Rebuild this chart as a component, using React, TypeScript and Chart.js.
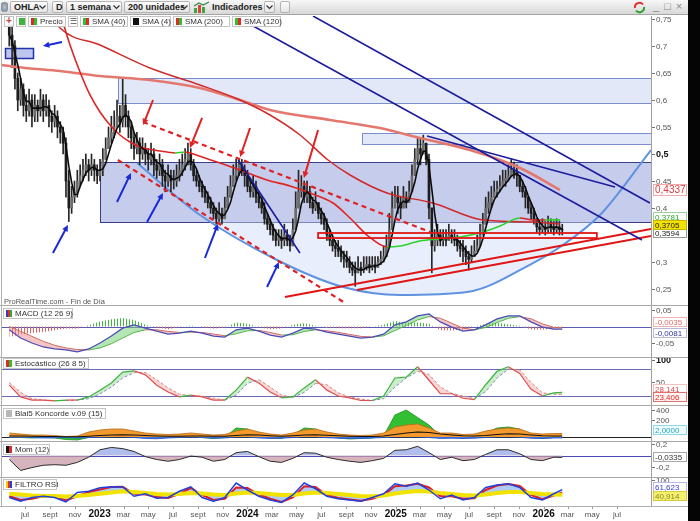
import React, { useEffect, useRef } from "react";
import { Chart, registerables } from "chart.js";

Chart.register(...registerables);

const FONT = '"Liberation Sans", Arial, Helvetica, sans-serif';

// x axis: weeks counted from 2023-01-02
const X_MIN = -34.56;
const X_MAX = 194.29;

// ---------------- weekly price data ----------------
const FIRST_WEEK = -32;
const FIRST_OPEN = 0.74;
const closes = [
  0.72, 0.70, 0.64, 0.60, 0.62, 0.59, 0.58, 0.60, 0.57, 0.59,
  0.58, 0.60, 0.58, 0.59, 0.57, 0.56, 0.57, 0.55, 0.54, 0.52,
  0.45, 0.40, 0.42, 0.43, 0.45, 0.46, 0.47, 0.48, 0.47, 0.48,
  0.47, 0.46, 0.47, 0.49, 0.51, 0.53, 0.54, 0.55, 0.57, 0.56,
  0.59, 0.57, 0.55, 0.53, 0.51, 0.52, 0.50, 0.51, 0.50, 0.49,
  0.50, 0.48, 0.47, 0.48, 0.46, 0.45, 0.46, 0.45, 0.45, 0.46,
  0.47, 0.48, 0.49, 0.50, 0.48, 0.46, 0.45, 0.44, 0.43, 0.42,
  0.41, 0.40, 0.39, 0.38, 0.39, 0.38, 0.40, 0.42, 0.44, 0.46,
  0.47, 0.48, 0.47, 0.46, 0.44, 0.43, 0.44, 0.42, 0.41, 0.40,
  0.38, 0.37, 0.36, 0.35, 0.34, 0.345, 0.34, 0.35, 0.34, 0.33,
  0.36, 0.40, 0.43, 0.44, 0.42, 0.43, 0.41, 0.40, 0.41, 0.39,
  0.38, 0.37, 0.35, 0.34, 0.33, 0.325, 0.32, 0.31, 0.305, 0.30,
  0.29, 0.285, 0.28, 0.29, 0.285, 0.29, 0.295, 0.29, 0.295, 0.29,
  0.30, 0.305, 0.31, 0.33, 0.36, 0.40, 0.42, 0.41, 0.40, 0.42,
  0.41, 0.43, 0.46, 0.49, 0.51, 0.50, 0.52, 0.49, 0.40, 0.33,
  0.34, 0.35, 0.34, 0.345, 0.34, 0.35, 0.345, 0.34, 0.33, 0.325,
  0.32, 0.31, 0.305, 0.31, 0.32, 0.33, 0.35, 0.37, 0.40, 0.41,
  0.42, 0.43, 0.435, 0.44, 0.45, 0.455, 0.46, 0.47, 0.465, 0.46,
  0.44, 0.43, 0.42, 0.40, 0.39, 0.38, 0.365, 0.36, 0.365, 0.36,
  0.37, 0.365, 0.36, 0.365, 0.36, 0.3594,
];
const highs = [
  0.755, 0.74, 0.71, 0.65, 0.64, 0.63, 0.61, 0.62, 0.61, 0.61,
  0.60, 0.62, 0.61, 0.61, 0.60, 0.58, 0.59, 0.58, 0.56, 0.55,
  0.53, 0.47, 0.44, 0.45, 0.47, 0.48, 0.49, 0.50, 0.49, 0.50,
  0.49, 0.48, 0.49, 0.51, 0.53, 0.55, 0.57, 0.58, 0.60, 0.59,
  0.64, 0.61, 0.58, 0.56, 0.54, 0.54, 0.53, 0.53, 0.52, 0.51,
  0.52, 0.51, 0.49, 0.50, 0.49, 0.47, 0.48, 0.47, 0.47, 0.48,
  0.49, 0.50, 0.51, 0.52, 0.51, 0.49, 0.47, 0.46, 0.45, 0.44,
  0.43, 0.42, 0.41, 0.40, 0.41, 0.40, 0.42, 0.44, 0.46, 0.48,
  0.49, 0.49, 0.49, 0.48, 0.47, 0.45, 0.46, 0.45, 0.43, 0.42,
  0.41, 0.39, 0.38, 0.37, 0.36, 0.36, 0.36, 0.37, 0.36, 0.35,
  0.38, 0.43, 0.47, 0.46, 0.45, 0.45, 0.44, 0.42, 0.43, 0.41,
  0.40, 0.39, 0.38, 0.36, 0.35, 0.34, 0.34, 0.33, 0.32, 0.32,
  0.31, 0.30, 0.30, 0.31, 0.30, 0.31, 0.31, 0.31, 0.31, 0.31,
  0.31, 0.32, 0.33, 0.35, 0.39, 0.43, 0.44, 0.44, 0.42, 0.44,
  0.43, 0.45, 0.48, 0.51, 0.53, 0.53, 0.535, 0.52, 0.50, 0.40,
  0.36, 0.37, 0.36, 0.36, 0.36, 0.37, 0.36, 0.36, 0.35, 0.34,
  0.34, 0.33, 0.32, 0.33, 0.34, 0.35, 0.37, 0.39, 0.42, 0.43,
  0.44, 0.45, 0.45, 0.46, 0.47, 0.47, 0.48, 0.49, 0.485, 0.48,
  0.46, 0.45, 0.44, 0.42, 0.41, 0.40, 0.38, 0.375, 0.38, 0.375,
  0.385, 0.38, 0.375, 0.38, 0.375, 0.37,
];
const lows = [
  0.70, 0.66, 0.62, 0.58, 0.59, 0.57, 0.56, 0.57, 0.55, 0.56,
  0.56, 0.57, 0.56, 0.57, 0.55, 0.54, 0.55, 0.53, 0.52, 0.50,
  0.42, 0.375, 0.39, 0.41, 0.42, 0.44, 0.45, 0.46, 0.45, 0.46,
  0.45, 0.445, 0.45, 0.46, 0.49, 0.51, 0.52, 0.53, 0.55, 0.54,
  0.55, 0.55, 0.53, 0.51, 0.49, 0.50, 0.48, 0.49, 0.48, 0.47,
  0.48, 0.46, 0.455, 0.46, 0.44, 0.43, 0.44, 0.43, 0.435, 0.44,
  0.45, 0.46, 0.47, 0.48, 0.47, 0.45, 0.44, 0.43, 0.42, 0.41,
  0.40, 0.39, 0.38, 0.37, 0.375, 0.37, 0.38, 0.40, 0.42, 0.44,
  0.45, 0.46, 0.46, 0.44, 0.43, 0.42, 0.42, 0.41, 0.40, 0.39,
  0.37, 0.36, 0.35, 0.34, 0.33, 0.33, 0.325, 0.33, 0.33, 0.32,
  0.33, 0.36, 0.40, 0.42, 0.41, 0.41, 0.40, 0.39, 0.395, 0.38,
  0.37, 0.36, 0.34, 0.33, 0.32, 0.31, 0.31, 0.30, 0.29, 0.29,
  0.28, 0.275, 0.255, 0.28, 0.275, 0.28, 0.285, 0.28, 0.285, 0.28,
  0.29, 0.295, 0.30, 0.31, 0.33, 0.36, 0.40, 0.39, 0.38, 0.40,
  0.40, 0.41, 0.43, 0.46, 0.48, 0.48, 0.50, 0.48, 0.38, 0.28,
  0.32, 0.33, 0.33, 0.33, 0.33, 0.34, 0.335, 0.33, 0.32, 0.31,
  0.30, 0.295, 0.285, 0.30, 0.31, 0.32, 0.33, 0.35, 0.37, 0.39,
  0.40, 0.42, 0.42, 0.43, 0.44, 0.44, 0.45, 0.46, 0.455, 0.44,
  0.43, 0.42, 0.40, 0.39, 0.38, 0.37, 0.355, 0.35, 0.355, 0.35,
  0.355, 0.355, 0.35, 0.355, 0.35, 0.35,
];

// moving averages: [week, value]
const sma40Points = [
  [-15.87, 0.7759], [-13.4, 0.7481], [-10.58, 0.7019], [-7.05, 0.6519], [-3.53, 0.6093],
  [0, 0.5778], [3.53, 0.5537], [7.05, 0.5352], [10.58, 0.5222], [14.1, 0.513],
  [21.16, 0.5056], [26.45, 0.5019], [29.97, 0.5037], [31.73, 0.5019], [37.02, 0.4926],
  [42.31, 0.4833], [49.37, 0.4704], [58.89, 0.4519], [67.0, 0.4407], [74.05, 0.4278],
  [82.16, 0.4093], [88.15, 0.3815], [94.15, 0.35], [101.2, 0.3278], [105.78, 0.3296],
  [112.83, 0.3389], [119.89, 0.3426], [126.94, 0.3463], [135.05, 0.3556], [141.04, 0.3667],
  [148.1, 0.3815], [152.68, 0.3778], [156.91, 0.3778], [162.2, 0.3781],
];
const sma120Points = [
  [-19.4, 0.7760], [-14.1, 0.7333], [0, 0.7019], [17.63, 0.6593], [35.26, 0.6278],
  [49.37, 0.6], [59.94, 0.5722], [70.52, 0.5352], [80.4, 0.4889], [88.15, 0.4611],
  [101.2, 0.4278], [117.4, 0.4093], [135.05, 0.3778], [152.68, 0.3741], [162.2, 0.3705],
];
const sma200Points = [
  [-34.56, 0.6648], [-26.45, 0.6593], [-14.1, 0.6537], [0, 0.6444], [17.63, 0.637],
  [35.26, 0.6222], [49.37, 0.6], [59.94, 0.5815], [81.1, 0.563], [98.73, 0.5481],
  [112.83, 0.5296], [130.47, 0.5074], [148.1, 0.4741], [162.2, 0.4337],
];

// ---------------- indicator panels (sampled every 4 weeks) ----------------
const subWeeks = [
  -32, -28, -24, -20, -16, -12, -8, -4, 0, 4,
  8, 12, 16, 20, 24, 28, 32, 36, 40, 44,
  48, 52, 56, 60, 64, 68, 72, 76, 80, 84,
  88, 92, 96, 100, 104, 108, 112, 116, 120, 124,
  128, 132, 136, 140, 144, 148, 152, 156, 160, 163,
];
const macdLine = [
  -0.010, -0.035, -0.050, -0.062, -0.068, -0.071, -0.077, -0.068, -0.050, -0.029,
  -0.005, 0.005, -0.005, -0.014, -0.023, -0.020, -0.014, -0.020, -0.029, -0.032,
  -0.010, -0.005, -0.014, -0.026, -0.032, -0.020, -0.005, -0.008, -0.017, -0.023,
  -0.029, -0.035, -0.032, -0.023, 0.005, 0.014, 0.032, 0.038, 0.014, -0.002,
  -0.014, -0.010, 0.005, 0.023, 0.032, 0.032, 0.014, -0.002, -0.008, -0.0081,
];
const macdSignal = [
  0.000, -0.015, -0.030, -0.045, -0.057, -0.065, -0.070, -0.071, -0.065, -0.052,
  -0.035, -0.018, -0.010, -0.010, -0.015, -0.018, -0.017, -0.018, -0.023, -0.028,
  -0.022, -0.013, -0.012, -0.018, -0.026, -0.025, -0.015, -0.010, -0.013, -0.018,
  -0.024, -0.030, -0.032, -0.028, -0.012, 0.003, 0.020, 0.030, 0.025, 0.010,
  -0.005, -0.010, -0.003, 0.012, 0.025, 0.030, 0.023, 0.008, -0.003, -0.0035,
];
const macdHist = [
  -0.032, -0.024, -0.020, -0.017, -0.011, -0.006, -0.007, 0.004, 0.015, 0.022,
  0.026, 0.020, 0.005, -0.004, -0.008, -0.002, 0.003, -0.002, -0.006, -0.004,
  0.012, 0.008, -0.002, -0.008, -0.006, 0.005, 0.010, 0.002, -0.004, -0.005,
  -0.005, -0.005, 0.000, 0.005, 0.017, 0.011, 0.012, 0.008, -0.011, -0.012,
  -0.009, 0.000, 0.008, 0.011, 0.007, 0.002, -0.009, -0.010, -0.005, -0.0046,
];
const stochK = [
  44, 18, 11, 11, 9, 11, 11, 18, 33, 49,
  73, 76, 67, 44, 29, 18, 22, 18, 11, 11,
  33, 62, 49, 29, 16, 18, 38, 56, 33, 20,
  16, 10, 10, 20, 60, 62, 85, 55, 25, 25,
  15, 12, 45, 75, 85, 70, 35, 20, 27, 28.141,
];
const stochD = [
  50, 28, 14, 11, 10, 10, 11, 14, 25, 40,
  60, 72, 72, 56, 38, 24, 20, 20, 15, 11,
  22, 48, 56, 40, 22, 17, 28, 48, 45, 27,
  18, 13, 10, 14, 40, 60, 75, 68, 40, 26,
  20, 14, 30, 60, 80, 78, 50, 27, 24, 23.406,
];
const koncordeBase = -140;
const koncordeBrown = [
  -60, -80, -100, -100, -110, -130, -120, -40, 0, 20,
  20, -20, -60, -80, -90, -80, -60, -80, -100, -90,
  -20, 20, -40, -80, -100, -60, 0, 20, -40, -80,
  -100, -110, -100, -60, 60, 100, 120, 40, -60, -60,
  -90, -80, -20, 20, 40, 20, -60, -80, -70, -70,
];
const koncordeGreen = [
  -140, -150, -160, -150, -160, -190, -200, -150, -100, -60,
  -40, -120, -150, -160, -150, -140, -120, -150, -170, -150,
  40, 20, -140, -160, -170, -100, 40, 20, -100, -160,
  -180, -170, -160, -120, 300, 400, 250, 100, -120, -140,
  -160, -150, -60, 40, 60, 20, -150, -170, -150, -150,
];
const koncordeBlue = [
  -150, -145, -150, -160, -155, -150, -160, -150, -145, -140,
  -140, -150, -170, -175, -160, -150, -145, -150, -165, -160,
  -140, -140, -160, -170, -165, -150, -140, -140, -155, -165,
  -170, -170, -160, -150, -140, -140, -140, -150, -170, -165,
  -170, -165, -150, -140, -140, -145, -165, -170, -160, -160,
];
const koncordeBlack = [
  -120, -120, -125, -130, -130, -135, -135, -125, -110, -100,
  -95, -100, -110, -120, -125, -125, -120, -120, -125, -125,
  -110, -95, -100, -115, -125, -115, -100, -95, -105, -115,
  -125, -130, -130, -120, -90, -60, -40, -50, -80, -100,
  -115, -120, -110, -90, -75, -80, -100, -115, -120, -120,
];
const momValues = [
  -0.07, -0.26, -0.21, -0.17, -0.16, -0.17, -0.12, -0.03, 0.10, 0.14,
  0.12, 0.07, -0.02, -0.07, -0.10, -0.07, -0.01, -0.03, -0.10, -0.07,
  0.05, 0.07, -0.02, -0.10, -0.12, -0.05, 0.05, 0.04, -0.03, -0.07,
  -0.10, -0.12, -0.09, -0.05, 0.09, 0.10, 0.16, 0.05, -0.07, -0.03,
  -0.09, -0.07, 0.02, 0.10, 0.10, 0.03, -0.07, -0.09, -0.03, -0.0335,
];
const rsiBlue = [
  30, 15, 30, 35, 30, 12, 50, 55, 69, 73,
  72, 35, 45, 27, 30, 55, 73, 30, 15, 30,
  88, 60, 35, 20, 10, 40, 88, 65, 35, 25,
  20, 15, 30, 45, 85, 75, 88, 60, 25, 40,
  20, 30, 70, 80, 85, 70, 30, 20, 45, 61.623,
];
const rsiRed = [
  35, 20, 25, 35, 33, 18, 35, 52, 62, 72,
  73, 45, 42, 32, 28, 45, 68, 40, 20, 25,
  70, 68, 42, 25, 12, 30, 75, 72, 40, 28,
  22, 17, 25, 40, 75, 78, 85, 70, 35, 35,
  25, 27, 60, 78, 84, 76, 40, 23, 38, 50,
];
const rsiYellow = [
  45, 42, 38, 36, 36, 34, 36, 40, 45, 50,
  55, 52, 48, 44, 42, 44, 48, 46, 42, 40,
  46, 50, 48, 44, 40, 40, 46, 50, 48, 44,
  40, 36, 35, 38, 46, 52, 56, 54, 48, 44,
  40, 38, 42, 48, 52, 52, 48, 44, 42, 40.914,
];

// ---------------- axis tick labels ----------------
const priceTicks = [0.25, 0.3, 0.4, 0.45, 0.5, 0.55, 0.6, 0.65, 0.7, 0.75];
const axisMonths: [number, number, string][] = [
  [2022, 6, "jul"], [2022, 8, "sept"], [2022, 10, "nov"],
  [2023, 0, "2023"], [2023, 2, "mar"], [2023, 4, "may"], [2023, 6, "jul"], [2023, 8, "sept"], [2023, 10, "nov"],
  [2024, 0, "2024"], [2024, 2, "mar"], [2024, 4, "may"], [2024, 6, "jul"], [2024, 8, "sept"], [2024, 10, "nov"],
  [2025, 0, "2025"], [2025, 2, "mar"], [2025, 4, "may"], [2025, 6, "jul"], [2025, 8, "sept"], [2025, 10, "nov"],
  [2026, 0, "2026"], [2026, 2, "mar"], [2026, 4, "may"], [2026, 6, "jul"],
];

// ---------------- drawings on the price panel: [week, price] ----------------
const zoneBoxes = [
  { from: [-33.5, 0.6963], to: [-23.6, 0.6778], kind: "marker" },
  { from: [6.35, 0.6407], to: [X_MAX, 0.5944], kind: "band" },
  { from: [92.4, 0.5389], to: [X_MAX, 0.5185], kind: "band" },
  { from: [0, 0.4852], to: [X_MAX, 0.3741], kind: "zone" },
];
const redBox = { from: [76.9, 0.3537], to: [175.2, 0.3444] };
const arcPoints = [
  [13.05, 0.4833], [35.26, 0.387], [62.41, 0.3037], [85.68, 0.2537], [105.78, 0.2389],
  [129.41, 0.2444], [152.68, 0.2981], [162.2, 0.3278], [176.3, 0.387], [194.3, 0.5074],
];
const arcFloor = 0.3741;
const blueTrendLines = [
  [[75.1, 0.7556], [193.9, 0.4093]],
  [[47.6, 0.7556], [191.1, 0.3407]],
  [[115.3, 0.5333], [181.6, 0.4389]],
  [[48.7, 0.4889], [70.5, 0.3167]],
];
const redDashedLines = [
  [[15.2, 0.5593], [116.4, 0.3556]],
  [[6.3, 0.4889], [86.4, 0.2241]],
];
const redSupportLines = [
  [[65.2, 0.2352], [194.3, 0.3611]],
  [[90.6, 0.2481], [194.3, 0.3481]],
];
const blueArrows = [
  [[-13.4, 0.7074], [-20.1, 0.7]],
  [[-16.6, 0.3167], [-11.3, 0.3685]],
  [[6.0, 0.4111], [10.9, 0.4648]],
  [[16.6, 0.3741], [22.2, 0.4278]],
  [[37.0, 0.3074], [41.6, 0.3704]],
  [[58.9, 0.2537], [63.1, 0.3]],
];
const redArrows = [
  [[18.7, 0.6], [15.2, 0.5537]],
  [[36.0, 0.5667], [31.7, 0.5111]],
  [[52.9, 0.5481], [49.4, 0.4944]],
  [[76.9, 0.5444], [71.9, 0.4556]],
];

// ---------------- helpers ----------------
const toPts = (ws: number[], vs: number[]) => ws.map((w, i) => ({ x: w, y: vs[i] }));
const pairPts = (arr: number[][]) => arr.map(([x, y]) => ({ x, y }));
const fmt = (v: number) => String(v).replace(".", ",");
const weekOf = (y: number, m: number) => (Date.UTC(y, m, 1) - Date.UTC(2023, 0, 2)) / 604800000;

function baseOptions(yMin: number, yMax: number, padTop: number, padBottom: number): any {
  return {
    animation: false,
    responsive: false,
    maintainAspectRatio: false,
    devicePixelRatio: 1,
    events: [],
    layout: { padding: { left: 2, right: 37, top: padTop, bottom: padBottom } },
    plugins: { legend: { display: false }, tooltip: { enabled: false } },
    scales: {
      x: { type: "linear", min: X_MIN, max: X_MAX, display: false, offset: false },
      y: { type: "linear", min: yMin, max: yMax, display: false },
    },
  };
}

function line(data: any, color: string, width: number, extra: any = {}) {
  return { type: "line", data, borderColor: color, borderWidth: width, pointRadius: 0, fill: false, tension: 0, ...extra };
}

const trendSeg = (up: string, down: string) => ({
  borderColor: (c: any) => (c.p1.parsed.y > c.p0.parsed.y ? up : down),
});

type Tick = { v: number; t: string; bold?: boolean };
type VBox = { v: number; t: string; color: string; bg: string; border: string; dy?: number; size?: number };
type HLine = { v: number; color: string; width: number };

function axisPlugin(id: string, ticks: Tick[], boxes: VBox[], hlines: HLine[]) {
  return {
    id,
    beforeDatasetsDraw(chart: any) {
      const { ctx, chartArea: a, scales } = chart;
      ctx.save();
      for (const h of hlines) {
        const py = Math.round(scales.y.getPixelForValue(h.v)) + 0.5;
        ctx.strokeStyle = h.color;
        ctx.lineWidth = h.width;
        ctx.beginPath();
        ctx.moveTo(a.left, py);
        ctx.lineTo(a.right, py);
        ctx.stroke();
      }
      ctx.restore();
    },
    afterDraw(chart: any) {
      const { ctx, chartArea: a, scales } = chart;
      const y = scales.y;
      ctx.save();
      ctx.strokeStyle = "#a0a0a0";
      ctx.lineWidth = 1;
      ctx.beginPath();
      ctx.moveTo(a.right + 0.5, a.top);
      ctx.lineTo(a.right + 0.5, a.bottom);
      ctx.stroke();
      ctx.textBaseline = "middle";
      ctx.textAlign = "left";
      for (const t of ticks) {
        const py = y.getPixelForValue(t.v);
        ctx.fillStyle = "#777";
        ctx.fillRect(a.right + 1, Math.round(py), 3, 1);
        ctx.font = t.bold ? `bold 9px ${FONT}` : `8px ${FONT}`;
        ctx.fillStyle = t.bold ? "#111" : "#555";
        ctx.fillText(t.t, a.right + 5, py + 0.5);
      }
      for (const b of boxes) {
        const py = Math.round(y.getPixelForValue(b.v) + (b.dy || 0));
        const size = b.size || 8;
        const h = size + 2;
        ctx.fillStyle = b.bg;
        ctx.fillRect(a.right + 2, py - h / 2, 34, h);
        ctx.strokeStyle = b.border;
        ctx.strokeRect(a.right + 2.5, py - h / 2 + 0.5, 33, h - 1);
        ctx.fillStyle = b.color;
        ctx.font = `${size}px ${FONT}`;
        ctx.fillText(b.t, a.right + 4, py + 0.5);
      }
      ctx.restore();
    },
  };
}

function drawArrow(ctx: any, x1: number, y1: number, x2: number, y2: number, color: string) {
  const ang = Math.atan2(y2 - y1, x2 - x1);
  const L = 7;
  ctx.strokeStyle = color;
  ctx.fillStyle = color;
  ctx.lineWidth = 2;
  ctx.setLineDash([]);
  ctx.beginPath();
  ctx.moveTo(x1, y1);
  ctx.lineTo(x2 - Math.cos(ang) * 4, y2 - Math.sin(ang) * 4);
  ctx.stroke();
  ctx.beginPath();
  ctx.moveTo(x2, y2);
  ctx.lineTo(x2 - L * Math.cos(ang - 0.45), y2 - L * Math.sin(ang - 0.45));
  ctx.lineTo(x2 - L * Math.cos(ang + 0.45), y2 - L * Math.sin(ang + 0.45));
  ctx.closePath();
  ctx.fill();
}

const zoneStyle: any = {
  marker: { fill: "rgba(70,90,210,0.35)", stroke: "#2233aa", width: 1.5 },
  band: { fill: "rgba(190,205,240,0.45)", stroke: "rgba(110,130,200,0.9)", width: 1 },
  zone: { fill: "rgba(105,120,205,0.38)", stroke: "#3a3f8a", width: 1 },
};

const mainDrawings = {
  id: "mainDrawings",
  beforeDatasetsDraw(chart: any) {
    const { ctx, chartArea: a, scales: { x, y } } = chart;
    ctx.save();
    ctx.beginPath();
    ctx.rect(a.left, a.top, a.right - a.left, a.bottom - a.top);
    ctx.clip();
    for (const z of zoneBoxes) {
      const s = zoneStyle[z.kind];
      const x1 = x.getPixelForValue(z.from[0]);
      const y1 = y.getPixelForValue(z.from[1]);
      const x2 = x.getPixelForValue(z.to[0]);
      const y2 = y.getPixelForValue(z.to[1]);
      ctx.fillStyle = s.fill;
      ctx.fillRect(x1, y1, x2 - x1, y2 - y1);
      ctx.strokeStyle = s.stroke;
      ctx.lineWidth = s.width;
      ctx.strokeRect(Math.round(x1) + 0.5, Math.round(y1) + 0.5, Math.round(x2 - x1), Math.round(y2 - y1));
    }
    ctx.restore();
  },
  afterDatasetsDraw(chart: any) {
    const { ctx, chartArea: a, scales: { x, y } } = chart;
    const P = (p: number[]) => [x.getPixelForValue(p[0]), y.getPixelForValue(p[1])];
    ctx.save();
    ctx.beginPath();
    ctx.rect(a.left, a.top, a.right - a.left, a.bottom - a.top);
    ctx.clip();
    {
      const [x1, y1] = P(redBox.from);
      const [x2, y2] = P(redBox.to);
      ctx.strokeStyle = "#e01818";
      ctx.lineWidth = 1.8;
      ctx.strokeRect(x1, y1, x2 - x1, y2 - y1);
    }
    const seg = (l: number[][], color: string, w: number, dash: number[]) => {
      const [x1, y1] = P(l[0]);
      const [x2, y2] = P(l[1]);
      ctx.strokeStyle = color;
      ctx.lineWidth = w;
      ctx.setLineDash(dash);
      ctx.beginPath();
      ctx.moveTo(x1, y1);
      ctx.lineTo(x2, y2);
      ctx.stroke();
    };
    for (const l of redSupportLines) seg(l, "#e01515", 2, []);
    for (const l of redDashedLines) seg(l, "#e02020", 2.2, [5, 4]);
    for (const l of blueTrendLines) seg(l, "#1c1c9c", 1.6, []);
    ctx.setLineDash([]);
    for (const ar of blueArrows) {
      const [x1, y1] = P(ar[0]);
      const [x2, y2] = P(ar[1]);
      drawArrow(ctx, x1, y1, x2, y2, "#1a2ad8");
    }
    for (const ar of redArrows) {
      const [x1, y1] = P(ar[0]);
      const [x2, y2] = P(ar[1]);
      drawArrow(ctx, x1, y1, x2, y2, "#e02222");
    }
    ctx.restore();
  },
};

const PRICE_MAX = 0.75556;
const PRICE_MIN = 0.22037;

function mainConfig(): any {
  const weeks = closes.map((_, i) => FIRST_WEEK + i);
  const opens = closes.map((_, i) => (i === 0 ? FIRST_OPEN : closes[i - 1]));
  const sma4 = closes.map((_, i) => {
    const s = closes.slice(Math.max(0, i - 3), i + 1);
    return s.reduce((t, v) => t + v, 0) / s.length;
  });
  const wick = weeks.map((w, i) => ({ x: w, y: [lows[i], highs[i]] }));
  const body = weeks.map((w, i) => ({ x: w, y: [opens[i], closes[i]] }));
  const bodyColors = weeks.map((_, i) => (closes[i] >= opens[i] ? "#6c6c6c" : "#1c1c1c"));
  const options = baseOptions(PRICE_MIN, PRICE_MAX, 1, 0);
  return {
    type: "bar",
    data: {
      datasets: [
        line(toPts(weeks, sma4), "#0c0c0c", 1.6, { order: 1 }),
        line(pairPts(sma40Points), "#e02424", 1.6, { order: 2, cubicInterpolationMode: "monotone", segment: trendSeg("#2ed12e", "#e02424") }),
        line(pairPts(sma120Points), "#cf2b2b", 1.5, { order: 3, cubicInterpolationMode: "monotone" }),
        line(pairPts(sma200Points), "#e4786e", 2.6, { order: 4, cubicInterpolationMode: "monotone" }),
        { type: "bar", data: body, backgroundColor: bodyColors, borderWidth: 0, barThickness: 2, grouped: false, order: 5 },
        { type: "bar", data: wick, backgroundColor: "#262626", borderWidth: 0, barThickness: 1, grouped: false, order: 6 },
        line(pairPts(arcPoints), "#5f93e2", 2, {
          order: 7,
          cubicInterpolationMode: "monotone",
          fill: { target: { value: arcFloor }, above: "rgba(0,0,0,0)", below: "rgba(205,218,246,0.45)" },
        }),
      ],
    },
    options,
    plugins: [
      mainDrawings,
      axisPlugin(
        "mainAxis",
        priceTicks.map((v) => ({ v, t: fmt(v), bold: v === 0.5 })),
        [
          { v: 0.4337, t: "0,4337", color: "#e03a3a", bg: "#ffffff", border: "#f0a8a8", size: 10 },
          { v: 0.3781, t: "0,3781", color: "#22aa22", bg: "#ffffff", border: "#9ccf9c", dy: -3 },
          { v: 0.3594, t: "0,3594", color: "#222222", bg: "#ffffff", border: "#9a9a9a", dy: 3 },
          { v: 0.3705, t: "0,3705", color: "#222222", bg: "#f3e100", border: "#c9b800", dy: 1 },
        ],
        []
      ),
    ],
  };
}

function stripePattern(color: string) {
  const c = document.createElement("canvas");
  c.width = 3;
  c.height = 4;
  const g = c.getContext("2d")!;
  g.fillStyle = color;
  g.fillRect(0, 0, 1, 4);
  return g.createPattern(c, "repeat");
}

function macdConfig(): any {
  return {
    type: "line",
    data: {
      datasets: [
        line(toPts(subWeeks, macdHist), "rgba(0,0,0,0)", 0, {
          order: 5,
          fill: { target: { value: 0 }, above: stripePattern("#3cb83c"), below: stripePattern("#e06060") },
        }),
        line(toPts(subWeeks, macdLine), "#4b4bb8", 1.2, {
          order: 2,
          fill: { target: "+1", above: "rgba(120,205,120,0.55)", below: "rgba(236,140,140,0.5)" },
        }),
        line(toPts(subWeeks, macdSignal), "#d05a5a", 1, { order: 3, segment: trendSeg("#39b539", "#d05a5a") }),
      ],
    },
    options: baseOptions(-0.09242, 0.06212, 0, 0),
    plugins: [
      axisPlugin(
        "macdAxis",
        [{ v: 0.05, t: "0,05" }, { v: -0.05, t: "-0,05" }],
        [
          { v: -0.0035, t: "-0,0035", color: "#e06a6a", bg: "#ffffff", border: "#f0b4b4", dy: -6 },
          { v: -0.0081, t: "-0,0081", color: "#3434b0", bg: "#ffffff", border: "#b8b8d8", dy: 4 },
        ],
        [{ v: 0, color: "#5a5ab8", width: 1 }]
      ),
    ],
  };
}

function stochConfig(): any {
  return {
    type: "line",
    data: {
      datasets: [
        line(toPts(subWeeks, stochK), "#e05050", 1.2, {
          order: 1,
          segment: trendSeg("#3cb43c", "#e05050"),
          fill: { target: "+1", above: "rgba(140,215,140,0.45)", below: "rgba(240,165,165,0.45)" },
        }),
        line(toPts(subWeeks, stochD), "#8080d0", 1, { order: 2, borderDash: [3, 2], segment: trendSeg("#7878d0", "#e07878") }),
      ],
    },
    options: baseOptions(0, 104.44, 0, 0),
    plugins: [
      axisPlugin(
        "stochAxis",
        [{ v: 100, t: "100", bold: true }, { v: 50, t: "50" }],
        [
          { v: 28.141, t: "28,141", color: "#e04a4a", bg: "#ffffff", border: "#f2c0c0", dy: -3 },
          { v: 23.406, t: "23,406", color: "#e02828", bg: "#fff4f4", border: "#e07070", dy: 3 },
        ],
        [
          { v: 80, color: "#6a6ab8", width: 1 },
          { v: 20, color: "#6a6ab8", width: 1 },
        ]
      ),
    ],
  };
}

function koncordeConfig(): any {
  const base = { target: { value: koncordeBase } };
  return {
    type: "line",
    data: {
      datasets: [
        line(toPts(subWeeks, koncordeBlack), "#111111", 1.2, { order: 1 }),
        line(toPts(subWeeks, koncordeBrown), "#b86a18", 0.8, {
          order: 3,
          fill: { ...base, above: "#f39a2e", below: "#f39a2e" },
        }),
        line(toPts(subWeeks, koncordeBlue), "#2a55c8", 0.8, {
          order: 4,
          fill: { ...base, above: "#3e70e0", below: "#3e70e0" },
        }),
        line(toPts(subWeeks, koncordeGreen), "#1b8f1b", 0.8, {
          order: 5,
          fill: { ...base, above: "#32c032", below: "#32c032" },
        }),
      ],
    },
    options: baseOptions(-220, 480, 0, 0),
    plugins: [
      axisPlugin(
        "koncordeAxis",
        [{ v: 400, t: "400" }, { v: 200, t: "200" }],
        [{ v: 2, t: "2,0000", color: "#2aa6b8", bg: "#effcff", border: "#8fd8e4" }],
        [{ v: koncordeBase, color: "#222222", width: 1 }]
      ),
    ],
  };
}

function momConfig(): any {
  return {
    type: "line",
    data: {
      datasets: [
        line(toPts(subWeeks, momValues), "#2a2a2a", 1, {
          fill: { target: { value: 0 }, above: "rgba(150,168,232,0.75)", below: "rgba(200,155,168,0.75)" },
        }),
      ],
    },
    options: baseOptions(-0.3739, 0.2348, 0, 0),
    plugins: [
      axisPlugin(
        "momAxis",
        [{ v: 0.2, t: "0,2" }, { v: -0.2, t: "-0,2" }],
        [{ v: -0.0335, t: "-0,0335", color: "#333333", bg: "#ffffff", border: "#a8a8a8" }],
        [{ v: 0, color: "#4a4ab5", width: 1 }]
      ),
    ],
  };
}

const xLabels = {
  id: "xLabels",
  afterDraw(chart: any) {
    const { ctx, chartArea: a, scales } = chart;
    ctx.save();
    ctx.strokeStyle = "#b0b0b0";
    ctx.beginPath();
    ctx.moveTo(0, a.bottom + 0.5);
    ctx.lineTo(a.right + 37, a.bottom + 0.5);
    ctx.stroke();
    ctx.textAlign = "center";
    ctx.textBaseline = "middle";
    for (const [yy, m, label] of axisMonths) {
      const px = scales.x.getPixelForValue(weekOf(yy, m));
      if (px < a.left || px > a.right) continue;
      const isYear = m === 0;
      ctx.fillStyle = "#999";
      ctx.fillRect(Math.round(px), a.bottom + 1, 1, 2);
      ctx.font = isYear ? `bold 10px ${FONT}` : `8px ${FONT}`;
      ctx.fillStyle = isYear ? "#111" : "#555";
      ctx.fillText(label, px, a.bottom + 8.5);
    }
    ctx.restore();
  },
};

function rsiConfig(): any {
  return {
    type: "line",
    data: {
      datasets: [
        line(toPts(subWeeks, rsiBlue), "#2040e0", 1.5, { order: 1 }),
        line(toPts(subWeeks, rsiRed), "#e02020", 2, {
          order: 3,
          fill: { target: 2, above: "rgba(120,170,235,0.6)", below: "rgba(120,170,235,0.6)" },
        }),
        line(toPts(subWeeks, rsiYellow), "#f2e200", 4, { order: 2 }),
      ],
    },
    options: baseOptions(-4, 108, 0, 15),
    plugins: [
      axisPlugin(
        "rsiAxis",
        [{ v: 100, t: "100" }],
        [
          { v: 61.623, t: "61,623", color: "#3a3ad0", bg: "#ffffff", border: "#b8b8e0", dy: -3 },
          { v: 40.914, t: "40,914", color: "#8a8a20", bg: "#f6ef70", border: "#d4cc40", dy: 1 },
        ],
        []
      ),
      xLabels,
    ],
  };
}

// ---------------- small UI pieces ----------------
const Chev = ({ left, top }: { left: number; top: number }) => (
  <svg style={{ position: "absolute", left, top }} width={7} height={5}>
    <polyline points="0.5,0.5 3.5,3.5 6.5,0.5" fill="none" stroke="#333" strokeWidth={1.2} />
  </svg>
);

const TB = ({ left, width, text, chev }: { left: number; width: number; text?: string; chev?: boolean }) => (
  <div
    style={{
      position: "absolute", left, top: 1, width, height: 12, boxSizing: "border-box",
      border: "1px solid #b4b4b4", borderRadius: 2, background: "linear-gradient(#fdfdfd,#e4e4e4)",
      font: `bold 9px ${FONT}`, color: "#222", lineHeight: "10px", paddingLeft: 3, whiteSpace: "nowrap",
    }}
  >
    {text}
    {chev ? <Chev left={width - 10} top={3} /> : null}
  </div>
);

const LegendBox = ({ left, top, width, text, icon }: { left: number; top: number; width: number; text: string; icon: string }) => (
  <div
    style={{
      position: "absolute", left, top, width, height: 11, boxSizing: "border-box",
      border: "1px solid #c4c4c4", background: "rgba(255,255,255,0.92)",
      font: `8px ${FONT}`, color: "#333", lineHeight: "9px", whiteSpace: "nowrap",
    }}
  >
    <span style={{ position: "absolute", left: 2, top: 1, width: 6, height: 7, background: icon }} />
    <span style={{ position: "absolute", left: 11, top: 0 }}>{text}</span>
  </div>
);

const GR = "linear-gradient(90deg,#2fbf2f 50%,#e02a2a 50%)";
const RG = "linear-gradient(90deg,#e02a2a 50%,#2fbf2f 50%)";

const panels = [
  { top: 15, height: 290, cfg: mainConfig },
  { top: 306, height: 51, cfg: macdConfig },
  { top: 358, height: 47, cfg: stochConfig },
  { top: 406, height: 35, cfg: koncordeConfig },
  { top: 442, height: 35, cfg: momConfig },
  { top: 478, height: 43, cfg: rsiConfig },
];

export default function App() {
  const refs = useRef<(HTMLCanvasElement | null)[]>([]);

  useEffect(() => {
    document.body.style.margin = "0";
    const charts: Chart[] = [];
    panels.forEach((p, i) => {
      const c = refs.current[i];
      if (c) charts.push(new Chart(c, p.cfg()));
    });
    return () => charts.forEach((c) => c.destroy());
  }, []);

  return (
    <div style={{ position: "fixed", left: 0, top: 0, width: 700, height: 521, background: "#fff", overflow: "hidden", fontFamily: FONT }}>
      {panels.map((p, i) => (
        <canvas
          key={i}
          ref={(el) => { refs.current[i] = el; }}
          width={688}
          height={p.height}
          style={{ position: "absolute", left: 0, top: p.top, width: 688, height: p.height }}
        />
      ))}

      {[305, 357, 405, 441, 477].map((y) => (
        <div key={y} style={{ position: "absolute", left: 0, top: y, width: 688, height: 1, background: "#a8a8a8" }} />
      ))}
      <div style={{ position: "absolute", left: 1, top: 15, width: 1, height: 491, background: "#b0b0b0" }} />

      <div style={{ position: "absolute", left: 0, top: 0, width: 688, height: 15, boxSizing: "border-box", background: "linear-gradient(#f7f7f7,#d8d8d8)", borderBottom: "1px solid #a4a4a4" }}>
        <div style={{ position: "absolute", left: 1, top: 2, width: 7, height: 10, borderRadius: 3, background: "radial-gradient(#b8c4cc,#6f7c86)" }} />
        <TB left={10} width={38} text="OHLA" chev />
        <TB left={52} width={11} text="D" />
        <TB left={66} width={56} text="1 semana" chev />
        <TB left={124} width={66} text="200 unidades" chev />
        <svg style={{ position: "absolute", left: 193, top: 1 }} width={17} height={13}>
          <rect x={1} y={7} width={3} height={5} fill="#3aa845" />
          <rect x={5} y={4} width={3} height={8} fill="#e04040" />
          <rect x={9} y={6} width={3} height={6} fill="#3aa845" />
          <polyline points="1,5 6,2 10,4 16,1" fill="none" stroke="#2b8a3a" strokeWidth={1.2} />
        </svg>
        <div style={{ position: "absolute", left: 212, top: 2, font: `bold 9px ${FONT}`, color: "#222" }}>Indicadores</div>
        <TB left={264} width={11} chev />
        <TB left={280} width={10} />
        <svg style={{ position: "absolute", left: 633, top: 1 }} width={13} height={13}>
          <path d="M2,7 A4.5,4.5 0 0 1 10,3.5" fill="none" stroke="#e03030" strokeWidth={2} />
          <path d="M11,6 A4.5,4.5 0 0 1 3,9.5" fill="none" stroke="#30a030" strokeWidth={2} />
        </svg>
        <div style={{ position: "absolute", left: 653, top: 0, font: `11px ${FONT}`, color: "#888", letterSpacing: 1 }}>_ □ ×</div>
      </div>

      <LegendBox left={4} top={16} width={10} text="" icon="transparent" />
      <div style={{ position: "absolute", left: 6, top: 15, font: `bold 10px ${FONT}`, color: "#c44" }}>+</div>
      <LegendBox left={16} top={16} width={10} text="" icon="#3db53d" />
      <LegendBox left={28} top={16} width={38} text="Precio" icon={RG} />
      <div style={{ position: "absolute", left: 68, top: 16, width: 10, height: 11, boxSizing: "border-box", border: "1px solid #c4c4c4", background: "#fff", font: `8px ${FONT}`, color: "#444", lineHeight: "9px", textAlign: "center" }}>☰</div>
      <LegendBox left={80} top={16} width={48} text="SMA (40)" icon={GR} />
      <LegendBox left={130} top={16} width={41} text="SMA (4)" icon="#111" />
      <LegendBox left={173} top={16} width={57} text="SMA (200)" icon={RG} />
      <LegendBox left={232} top={16} width={49} text="SMA (120)" icon={GR} />

      <div style={{ position: "absolute", left: 4, top: 297, font: `7.5px ${FONT}`, color: "#555" }}>ProRealTime.com - Fin de Día</div>

      <LegendBox left={3} top={308} width={70} text="MACD (12 26 9)" icon="linear-gradient(90deg,#3a3ab8 33%,#e03030 33%,#e03030 66%,#30b030 66%)" />
      <LegendBox left={3} top={358} width={86} text="Estocástico (26 8 5)" icon={RG} />
      <LegendBox left={3} top={408} width={103} text="Blai5 Koncorde v.09 (15)" icon="#b8b8b8" />
      <LegendBox left={3} top={444} width={47} text="Mom (12)" icon="linear-gradient(90deg,#111 50%,#d03030 50%)" />
      <LegendBox left={3} top={479} width={54} text="FILTRO RSI" icon="linear-gradient(90deg,#f0d000 33%,#e03030 33%,#e03030 66%,#2040e0 66%)" />

      <div style={{ position: "absolute", left: 688, top: 0, width: 12, height: 521, background: "#050505" }} />
    </div>
  );
}
